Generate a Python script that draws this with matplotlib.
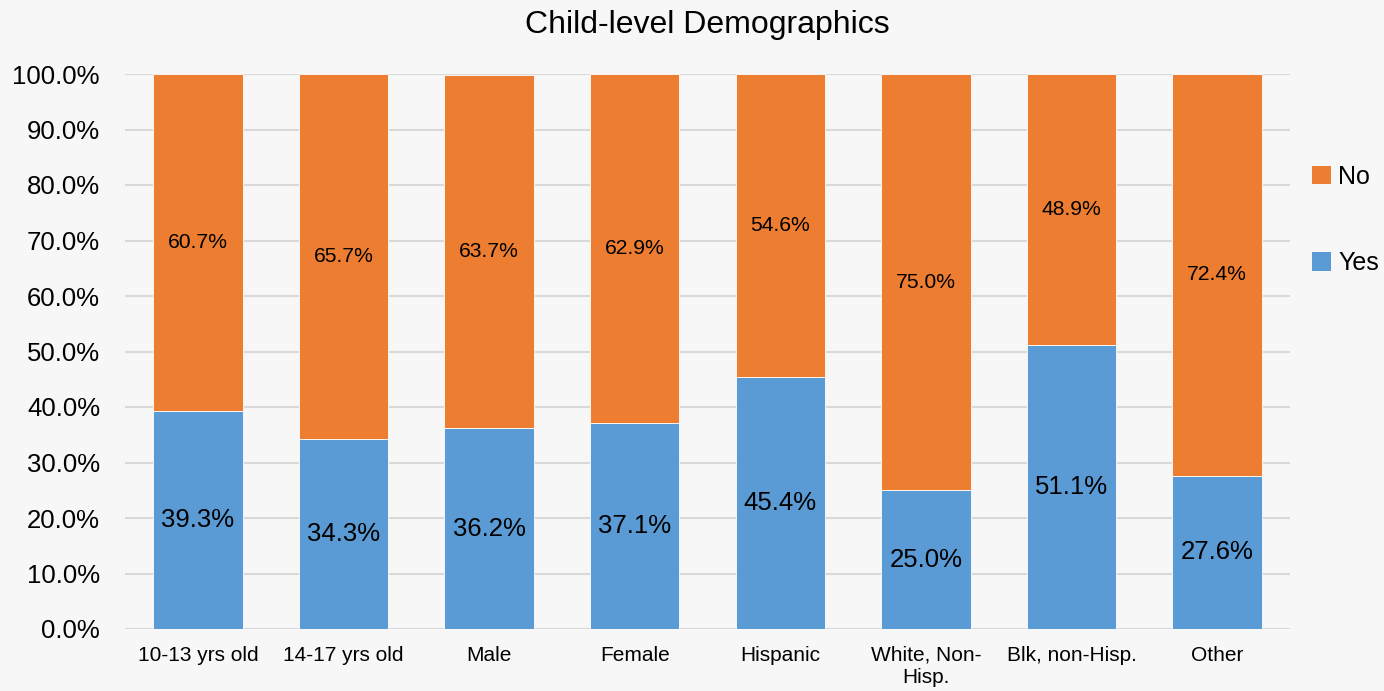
import matplotlib
matplotlib.use("Agg")
import matplotlib.pyplot as plt
from matplotlib.patches import Patch
from matplotlib.ticker import FuncFormatter

plt.rcParams['font.family'] = ['Liberation Sans', 'DejaVu Sans']

categories = ["10-13 yrs old", "14-17 yrs old", "Male", "Female", "Hispanic",
              "White, Non-\nHisp.", "Blk, non-Hisp.", "Other"]
yes_pct = [39.3, 34.3, 36.2, 37.1, 45.4, 25.0, 51.1, 27.6]
no_pct = [60.7, 65.7, 63.7, 62.9, 54.6, 75.0, 48.9, 72.4]
yticks = [0, 10, 20, 30, 40, 50, 60, 70, 80, 90, 100]

BLUE = "#5B9BD5"
ORANGE = "#ED7D31"
BG = "#f7f7f7"

fig = plt.figure(figsize=(13.84, 6.91), dpi=100, facecolor=BG)
ax = fig.add_axes([125 / 1384, 1 - 629 / 691, (1290 - 125) / 1384, (629 - 74) / 691])
ax.set_facecolor(BG)

x = list(range(len(categories)))
width = 0.615
ax.bar(x, yes_pct, width, color=BLUE, edgecolor="white", linewidth=0.6, zorder=3)
ax.bar(x, no_pct, width, bottom=yes_pct, color=ORANGE, edgecolor="white",
       linewidth=0.6, zorder=3)

for xi, y, n in zip(x, yes_pct, no_pct):
    ax.text(xi, y / 2, f"{y:.1f}%", ha="center", va="center", fontsize=18.5,
            color="black", zorder=4)
    ax.text(xi, y + n / 2, f"{n:.1f}%", ha="center", va="center", fontsize=15.2,
            color="black", zorder=4)

ax.set_xlim(-0.5, len(categories) - 0.5)
ax.set_ylim(0, 100)
ax.set_yticks(yticks)
ax.yaxis.set_major_formatter(FuncFormatter(lambda v, p: f"{v:.1f}%"))
ax.set_xticks(x)
ax.set_xticklabels(categories, fontsize=15, linespacing=1.2)
ax.tick_params(axis="y", labelsize=18.5, length=0, pad=18)
ax.tick_params(axis="x", length=0, pad=12)
ax.grid(axis="y", color="#d9d9d9", linewidth=1.5, zorder=0)
for s in ax.spines.values():
    s.set_visible(False)

fig.text(707 / 1384, 1 - 25 / 691, "Child-level Demographics", ha="center",
         va="center", fontsize=23)

handles = [Patch(facecolor=ORANGE, edgecolor="none"),
           Patch(facecolor=BLUE, edgecolor="none")]
fig.legend(handles, ["No", "Yes"], loc="center left",
           bbox_to_anchor=(1312 / 1384, 1 - 220 / 691), frameon=False,
           borderpad=0, borderaxespad=0,
           fontsize=18, handlelength=0.75, handleheight=0.75,
           handletextpad=0.3, labelspacing=2.5)

fig.savefig("out.png", dpi=100, facecolor=BG)
